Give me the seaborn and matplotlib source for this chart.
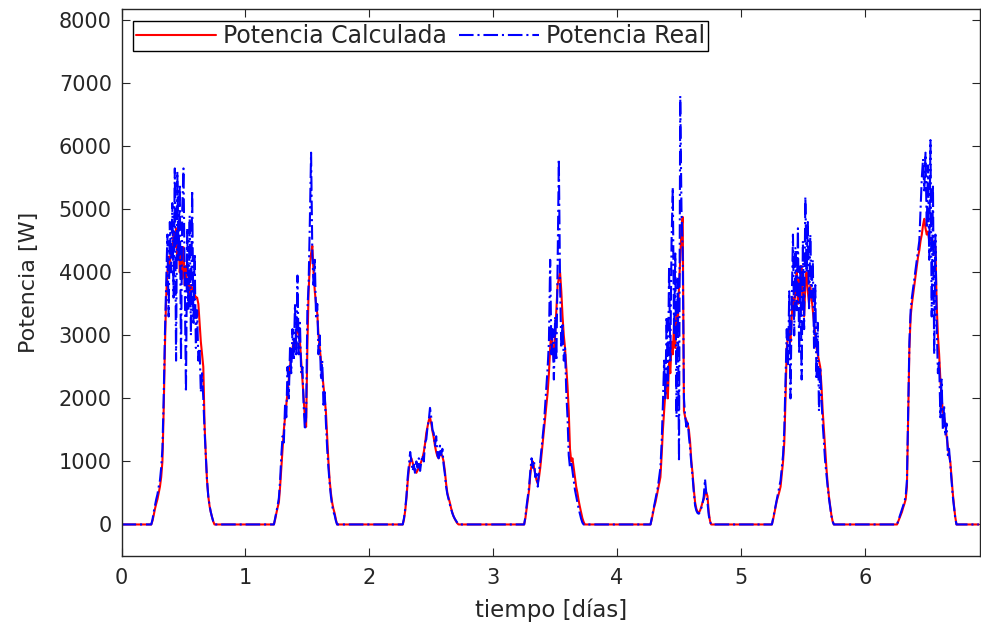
import numpy as np
import pandas as pd
import seaborn as sns
import matplotlib
matplotlib.use("Agg")
import matplotlib.pyplot as plt

# --- Datos (W), muestreo cada 0.01 días ---
paso = 0.01
t_fin = 6.93

# comienzo del tramo con producción de cada día
inicio = [0.24, 1.23, 2.27, 3.25, 4.27, 5.25, 6.26]

calc_d0 = [0, 60, 150, 250, 330, 400, 500, 600, 750, 1000, 1800, 2800, 3600, 4000, 4250, 4100,
           4450, 4300, 4650, 4400, 4700, 4200, 4550, 4000, 4300, 3900, 4400, 3800, 4100, 3700,
           3900, 3600, 3800, 3750, 3700, 3650, 3600, 3600, 3500, 3200, 2900, 2700, 2500, 1600,
           1100, 700, 450, 300, 200, 120, 50, 0]
real_d0 = [0, 80, 200, 300, 400, 480, 600, 700, 900, 1200, 2000, 3000, 3800, 4600, 3300, 4800,
           4000, 5100, 3600, 5650, 2600, 5600, 4200, 5400, 2600, 5000, 5650, 3800, 2100, 4700,
           3400, 4900, 3000, 5300, 3200, 4300, 2800, 3400, 2600, 2800, 2100, 2400, 2000, 1500,
           1100, 700, 450, 300, 200, 120, 50, 0]

calc_d1 = [0, 80, 180, 270, 350, 600, 900, 1200, 1500, 1700, 1900, 2100, 2300, 2500, 2700, 2800,
           2900, 2800, 3000, 3100, 3050, 2900, 2600, 2300, 2000, 1700, 1550, 2800, 3700, 4100,
           4300, 4420, 4000, 3700, 3500, 3350, 3000, 2800, 2600, 2400, 2200, 2000, 1780, 1400,
           1000, 700, 500, 350, 250, 180, 80, 0]
real_d1 = [0, 100, 200, 300, 420, 700, 1100, 1400, 1300, 1900, 1700, 2500, 2000, 2800, 2400, 3100,
           2600, 3500, 2700, 3950, 2700, 3200, 2400, 2500, 1900, 1500, 1700, 3400, 3800, 4800,
           5900, 4300, 3800, 4200, 3300, 3500, 2700, 3000, 2300, 2600, 1900, 2100, 1600, 1200,
           900, 650, 450, 300, 200, 150, 60, 0]

calc_d2 = [0, 80, 220, 420, 680, 880, 1000, 1050, 980, 900, 850, 820, 860, 900, 950, 1000,
           1060, 1150, 1280, 1450, 1550, 1650, 1700, 1600, 1480, 1380, 1250, 1150, 1080, 1050,
           1100, 1120, 1080, 1000, 850, 650, 500, 420, 350, 260, 190, 130, 90, 50, 20, 0]
real_d2 = [0, 100, 250, 450, 750, 950, 1150, 1000, 850, 950, 800, 1000, 900, 1050, 850, 1000,
           1100, 1000, 1300, 1350, 1550, 1650, 1850, 1700, 1500, 1450, 1250, 1400, 1100, 1050,
           1250, 1100, 1200, 950, 800, 600, 480, 400, 320, 250, 180, 130, 90, 60, 30, 10, 0]

calc_d3 = [0, 100, 250, 400, 550, 800, 950, 1000, 900, 800, 700, 650, 750, 900, 1100, 1300,
           1500, 1700, 1900, 2100, 2400, 2800, 3100, 2800, 2600, 3000, 3400, 3800, 3900, 4000,
           3700, 3300, 3000, 2800, 2500, 2200, 1800, 1200, 1000, 1050, 900, 750, 600, 500,
           380, 280, 190, 100, 40, 0]
real_d3 = [0, 120, 300, 450, 600, 850, 1050, 900, 1000, 750, 800, 600, 850, 1000, 1200, 1400,
           1600, 1900, 2200, 2500, 2900, 4200, 2700, 3100, 2300, 3300, 2600, 4100, 5800, 3800,
           2800, 3200, 2600, 2800, 2100, 1700, 1100, 900, 1000, 850, 700, 550, 450, 350, 250,
           170, 90, 30, 0]

calc_d4 = [0, 80, 180, 280, 350, 450, 550, 650, 750, 1100, 1500, 1800, 2100, 2300, 2000, 2600,
           2400, 2900, 2700, 3200, 2800, 3500, 3100, 3800, 4200, 4700, 4880, 1800, 1700, 1650,
           1600, 1500, 1300, 1000, 800, 550, 350, 250, 200, 190, 220, 280, 350, 400, 480, 510,
           450, 200, 60, 0]
real_d4 = [0, 100, 200, 300, 400, 500, 600, 750, 900, 1300, 1900, 2600, 2000, 3300, 2200, 4100,
           2600, 4500, 5350, 3000, 4300, 1700, 3900, 1000, 6800, 5000, 4300, 2000, 1700, 1550,
           1650, 1400, 1200, 950, 750, 500, 300, 220, 180, 170, 200, 260, 330, 450, 720, 500,
           350, 150, 40, 0]

calc_d5 = [0, 80, 180, 280, 380, 450, 520, 600, 800, 1000, 1300, 2000, 2800, 3000, 3100, 2900,
           3300, 3600, 3400, 3800, 4000, 3500, 3900, 3600, 4100, 3700, 3300, 3800, 4000, 3700,
           3500, 3800, 3600, 3400, 3200, 3000, 2800, 2700, 2600, 2500, 2200, 1800, 1500, 1200,
           900, 650, 450, 300, 150, 50, 0]
real_d5 = [0, 100, 200, 300, 400, 500, 600, 700, 900, 1100, 1500, 2300, 3100, 2500, 3700, 2000,
           3500, 4600, 3000, 4400, 3400, 4700, 2700, 4100, 2300, 4500, 3100, 5200, 4000, 4800,
           3400, 4600, 3600, 4200, 2800, 3800, 2300, 3200, 1800, 2500, 2000, 1600, 1300, 1000,
           800, 600, 420, 280, 140, 50, 0]

calc_d6 = [0, 50, 100, 150, 200, 270, 330, 400, 600, 1700, 2800, 3300, 3500, 3650, 3800, 3950,
           4100, 4250, 4350, 4500, 4600, 4750, 4850, 4700, 4600, 4650, 4500, 4550, 4500, 4400,
           4500, 4400, 3500, 3000, 2700, 2300, 2000, 1800, 1700, 1600, 1400, 1250, 1100, 1000,
           750, 500, 300, 120, 0]
real_d6 = [0, 60, 120, 180, 240, 300, 360, 450, 700, 1800, 2900, 3400, 3600, 3750, 3900, 4050,
           4200, 4350, 4500, 5000, 5500, 5800, 5300, 5900, 4700, 5700, 4200, 6100, 3300, 5400,
           2700, 4600, 3200, 2400, 2600, 1700, 2300, 1500, 1900, 1400, 1600, 1100, 1200, 950,
           700, 450, 280, 100, 0]

calc_dias = [calc_d0, calc_d1, calc_d2, calc_d3, calc_d4, calc_d5, calc_d6]
real_dias = [real_d0, real_d1, real_d2, real_d3, real_d4, real_d5, real_d6]

# serie completa: cero por la noche
t = np.round(np.arange(0, t_fin, paso), 2)
calc = np.zeros(len(t))
real = np.zeros(len(t))
for t0, c, r in zip(inicio, calc_dias, real_dias):
    i0 = int(round(t0 / paso))
    calc[i0:i0 + len(c)] = c
    real[i0:i0 + len(r)] = r

df = pd.DataFrame({"tiempo": t, "Potencia Calculada": calc, "Potencia Real": real})

# --- Estilo tipo MATLAB ---
sns.set_style("ticks")
plt.rcParams["font.family"] = ["DejaVu Sans"]
plt.rcParams["lines.scale_dashes"] = False
gris = "#262626"

fig = plt.figure(figsize=(9.81, 6.32), dpi=100)
ax = fig.add_axes([0.1239, 0.1203, 0.8751, 0.8655])

sns.lineplot(data=df, x="tiempo", y="Potencia Calculada", color="red", lw=1.5,
             estimator=None, label="Potencia Calculada", ax=ax)
sns.lineplot(data=df, x="tiempo", y="Potencia Real", color="blue", lw=1.5,
             estimator=None, label="Potencia Real", ax=ax)
ax.lines[1].set_dashes((10.5, 2.8, 1.5, 2.8))

ax.set_xlim(0, 6.93)
ax.set_ylim(-500, 8180)
ax.set_xticks(range(0, 7))
ax.set_yticks(range(0, 8001, 1000))

ax.set_xlabel("tiempo [días]", fontsize=16.5, color=gris, labelpad=7)
ax.set_ylabel("Potencia [W]", fontsize=16, color=gris, labelpad=14)

ax.tick_params(direction="in", top=True, right=True, length=5.5, width=0.8,
               labelsize=15, colors=gris)
ax.tick_params(axis="x", pad=9)
ax.tick_params(axis="y", pad=7)
for sp in ax.spines.values():
    sp.set_visible(True)
    sp.set_color(gris)
    sp.set_linewidth(1.0)

leg = ax.legend(loc="upper left", bbox_to_anchor=(0.0134, 0.978), ncol=2, frameon=True,
                fancybox=False, edgecolor="black", framealpha=1, borderaxespad=0,
                handlelength=3.4, handletextpad=0.3, columnspacing=0.5, borderpad=0.12,
                fontsize=17)
leg.get_frame().set_linewidth(1.0)

fig.savefig("out.png", dpi=100)
